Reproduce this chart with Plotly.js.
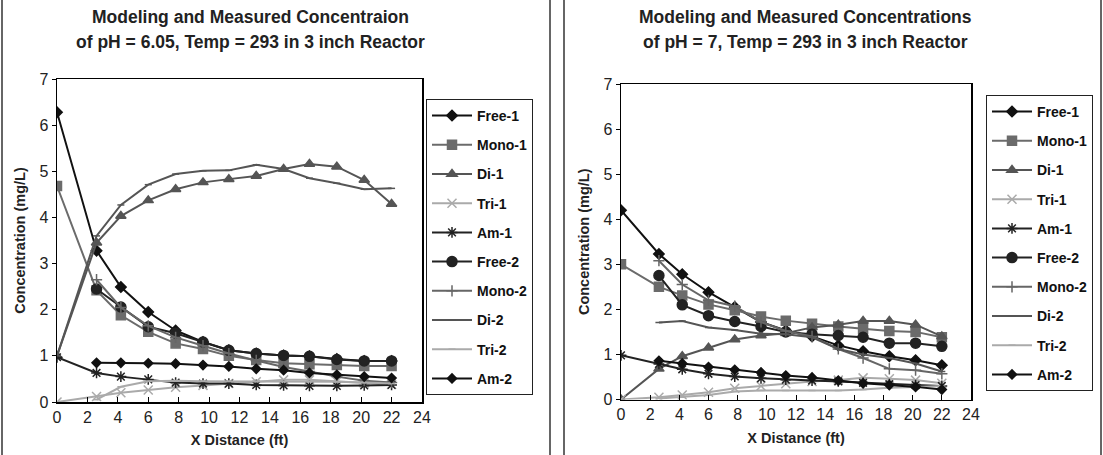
<!DOCTYPE html>
<html><head><meta charset="utf-8">
<script src="https://cdn.plot.ly/plotly-3.0.1.min.js"></script>
<style>html,body{margin:0;padding:0;background:#fff;}#chart{width:1103px;height:455px;}</style>
</head><body><div id="chart"></div>
<script>
// ---- data ----
const xDist = [0, 2.6, 4.2, 6, 7.8, 9.6, 11.3, 13.1, 14.9, 16.6, 18.4, 20.2, 22];
const seriesNames = ["Free-1","Mono-1","Di-1","Tri-1","Am-1","Free-2","Mono-2","Di-2","Tri-2","Am-2"];

// Left: pH = 6.05
const L_free1 = [6.28, 3.28, 2.49, 1.95, 1.55, 1.3, 1.12, 1.05, 1.01, 0.99, 0.93, 0.89, 0.89];
const L_mono1 = [4.68, 2.42, 1.88, 1.52, 1.27, 1.15, 1.0, 0.91, 0.84, 0.82, 0.8, 0.78, 0.78];
const L_di1   = [1.0, 3.45, 4.03, 4.37, 4.61, 4.76, 4.83, 4.9, 5.05, 5.16, 5.1, 4.81, 4.29];
const L_tri1  = [0, 0.12, 0.2, 0.26, 0.32, 0.36, 0.4, 0.44, 0.48, 0.48, 0.45, 0.41, 0.38];
const L_am1   = [0.97, 0.63, 0.55, 0.49, 0.42, 0.4, 0.4, 0.37, 0.36, 0.35, 0.35, 0.36, 0.37];
const L_free2 = [null, 2.45, 2.06, 1.63, 1.49, 1.3, 1.12, 1.05, 1.01, 0.99, 0.92, 0.89, 0.89];
const L_mono2 = [null, 2.65, 2.05, 1.65, 1.4, 1.22, 1.05, 0.9, 0.76, 0.66, 0.55, 0.46, 0.42];
const L_di2   = [1.0, 3.6, 4.27, 4.71, 4.94, 5.01, 5.02, 5.14, 5.05, 4.85, 4.74, 4.61, 4.63];
const L_tri2  = [null, 0.05, 0.33, 0.45, 0.46, 0.45, 0.45, 0.45, 0.45, 0.45, 0.44, 0.42, 0.4];
const L_am2   = [null, 0.85, 0.85, 0.84, 0.83, 0.8, 0.77, 0.72, 0.69, 0.63, 0.59, 0.55, 0.52];

// Right: pH = 7
const R_free1 = [4.2, 3.23, 2.78, 2.38, 2.05, 1.72, 1.53, 1.4, 1.2, 1.07, 0.96, 0.87, 0.76];
const R_mono1 = [3.0, 2.5, 2.31, 2.11, 1.98, 1.84, 1.75, 1.68, 1.62, 1.57, 1.52, 1.5, 1.38];
const R_di1   = [0, 0.68, 0.96, 1.15, 1.33, 1.42, 1.47, 1.6, 1.66, 1.74, 1.74, 1.66, 1.4];
const R_tri1  = [0, 0.05, 0.1, 0.16, 0.25, 0.3, 0.35, 0.4, 0.43, 0.48, 0.46, 0.43, 0.36];
const R_am1   = [0.98, 0.79, 0.67, 0.57, 0.51, 0.47, 0.44, 0.42, 0.4, 0.37, 0.34, 0.32, 0.3];
const R_free2 = [null, 2.75, 2.1, 1.86, 1.73, 1.62, 1.5, 1.45, 1.42, 1.38, 1.25, 1.25, 1.18];
const R_mono2 = [null, 3.08, 2.55, 2.2, 2.07, 1.72, 1.52, 1.4, 1.12, 0.92, 0.68, 0.65, 0.57];
const R_di2   = [null, 1.71, 1.74, 1.6, 1.54, 1.46, 1.45, 1.38, 1.12, 1.0, 0.92, 0.8, 0.62];
const R_tri2  = [null, 0.02, 0.05, 0.1, 0.18, 0.2, 0.2, 0.2, 0.2, 0.22, 0.26, 0.28, 0.3];
const R_am2   = [null, 0.86, 0.8, 0.72, 0.66, 0.6, 0.53, 0.49, 0.42, 0.36, 0.32, 0.28, 0.22];

const titleLeft = ["Modeling and Measured Concentraion", "of pH = 6.05, Temp = 293 in 3 inch Reactor"];
const titleRight = ["Modeling and Measured Concentrations", "of pH = 7, Temp = 293 in 3 inch Reactor"];

// ---- styles ----
const styles = [
  {color:"#111", symbol:"diamond", size:8},
  {color:"#6b6b6b", symbol:"square", size:9},
  {color:"#555", symbol:"triangle-up", size:9},
  {color:"#aaa", symbol:"x-thin-open", size:9},
  {color:"#222", symbol:"asterisk-open", size:9},
  {color:"#222", symbol:"circle", size:10},
  {color:"#666", symbol:"cross-thin-open", size:8},
  {color:"#555", symbol:"line-ew-open", size:5},
  {color:"#aaa", symbol:"line-ew-open", size:5},
  {color:"#111", symbol:"diamond", size:7}
];

const leftData = [L_free1,L_mono1,L_di1,L_tri1,L_am1,L_free2,L_mono2,L_di2,L_tri2,L_am2];
const rightData = [R_free1,R_mono1,R_di1,R_tri1,R_am1,R_free2,R_mono2,R_di2,R_tri2,R_am2];

const traces = [];
function addSet(data, xa, ya, leg, pre){
  data.forEach((ys,i)=>{
    const s = styles[i];
    traces.push({
      x: xDist, y: ys, type:"scatter", mode:"lines+markers",
      name: seriesNames[i], xaxis: xa, yaxis: ya, legend: leg,
      legendgroup: pre+i, connectgaps:false,
      line:{color:s.color, width:2},
      marker:{color:s.color, symbol:s.symbol, size:s.size, line:{color:s.color, width:1.5}}
    });
  });
}
addSet(leftData, "x", "y", "legend", "L");
addSet(rightData, "x2", "y2", "legend2", "R");

const W = 1103, H = 455;
const fontFam = "Liberation Sans, Arial, sans-serif";
function xAx(d){
  return {domain:d, range:[0,24], dtick:2, tick0:0, showgrid:false, zeroline:false,
    showline:true, linecolor:"#000", linewidth:1.5, mirror:true,
    ticks:"inside", ticklen:5, tickcolor:"#000",
    tickfont:{family:fontFam, size:16, color:"#222"},
    title:{text:"<b>X Distance (ft)</b>", font:{family:fontFam, size:14.5, color:"#222"}, standoff:10}};
}
function yAx(d){
  return {domain:d, range:[0,7], dtick:1, showgrid:false, zeroline:false,
    showline:true, linecolor:"#000", linewidth:1.5, mirror:true,
    ticks:"outside", ticklen:4, tickcolor:"#000",
    tickfont:{family:fontFam, size:16, color:"#222"},
    title:{text:"<b>Concentration (mg/L)</b>", font:{family:fontFam, size:14.5, color:"#222"}, standoff:10}};
}
const legBase = {font:{family:fontFam, size:14, color:"#111", weight:"bold"}, bordercolor:"#222", borderwidth:1,
  bgcolor:"#fff", tracegroupgap:8, itemwidth:40, xanchor:"left", yanchor:"top"};

function titleAnn(lines, cx){
  return lines.map((t,k)=>({text:"<b>"+t+"</b>", xref:"paper", yref:"paper", x:cx/W, y:1-(17+25*k)/H,
    xanchor:"center", yanchor:"middle", showarrow:false, font:{family:fontFam, size:17.5, color:"#222"}}));
}

const layout = {
  width:W, height:H, margin:{l:0,r:0,t:0,b:0},
  paper_bgcolor:"#fff", plot_bgcolor:"#fff", showlegend:true,
  xaxis: Object.assign(xAx([57/W, 422/W]), {anchor:"y"}),
  yaxis: Object.assign(yAx([(H-402)/H, (H-79)/H]), {anchor:"x"}),
  xaxis2: Object.assign(xAx([621/W, 971/W]), {anchor:"y2"}),
  yaxis2: Object.assign(yAx([(H-399.5)/H, (H-84)/H]), {anchor:"x2"}),
  legend: Object.assign({}, legBase, {x:426/W, y:1-99/H}),
  legend2: Object.assign({}, legBase, {x:986/W, y:1-95/H}),
  annotations: titleAnn(titleLeft, 250).concat(titleAnn(titleRight, 805)),
  shapes:[
    {type:"line", xref:"paper", yref:"paper", x0:2/W, x1:2/W, y0:0, y1:1, line:{color:"#666", width:2}},
    {type:"line", xref:"paper", yref:"paper", x0:550/W, x1:550/W, y0:0, y1:1, line:{color:"#666", width:2}},
    {type:"line", xref:"paper", yref:"paper", x0:564/W, x1:564/W, y0:0, y1:1, line:{color:"#666", width:2}},
    {type:"line", xref:"paper", yref:"paper", x0:1101/W, x1:1101/W, y0:0, y1:1, line:{color:"#666", width:2}}
  ]
};
Plotly.newPlot("chart", traces, layout, {displayModeBar:false, staticPlot:true});
</script></body></html>
